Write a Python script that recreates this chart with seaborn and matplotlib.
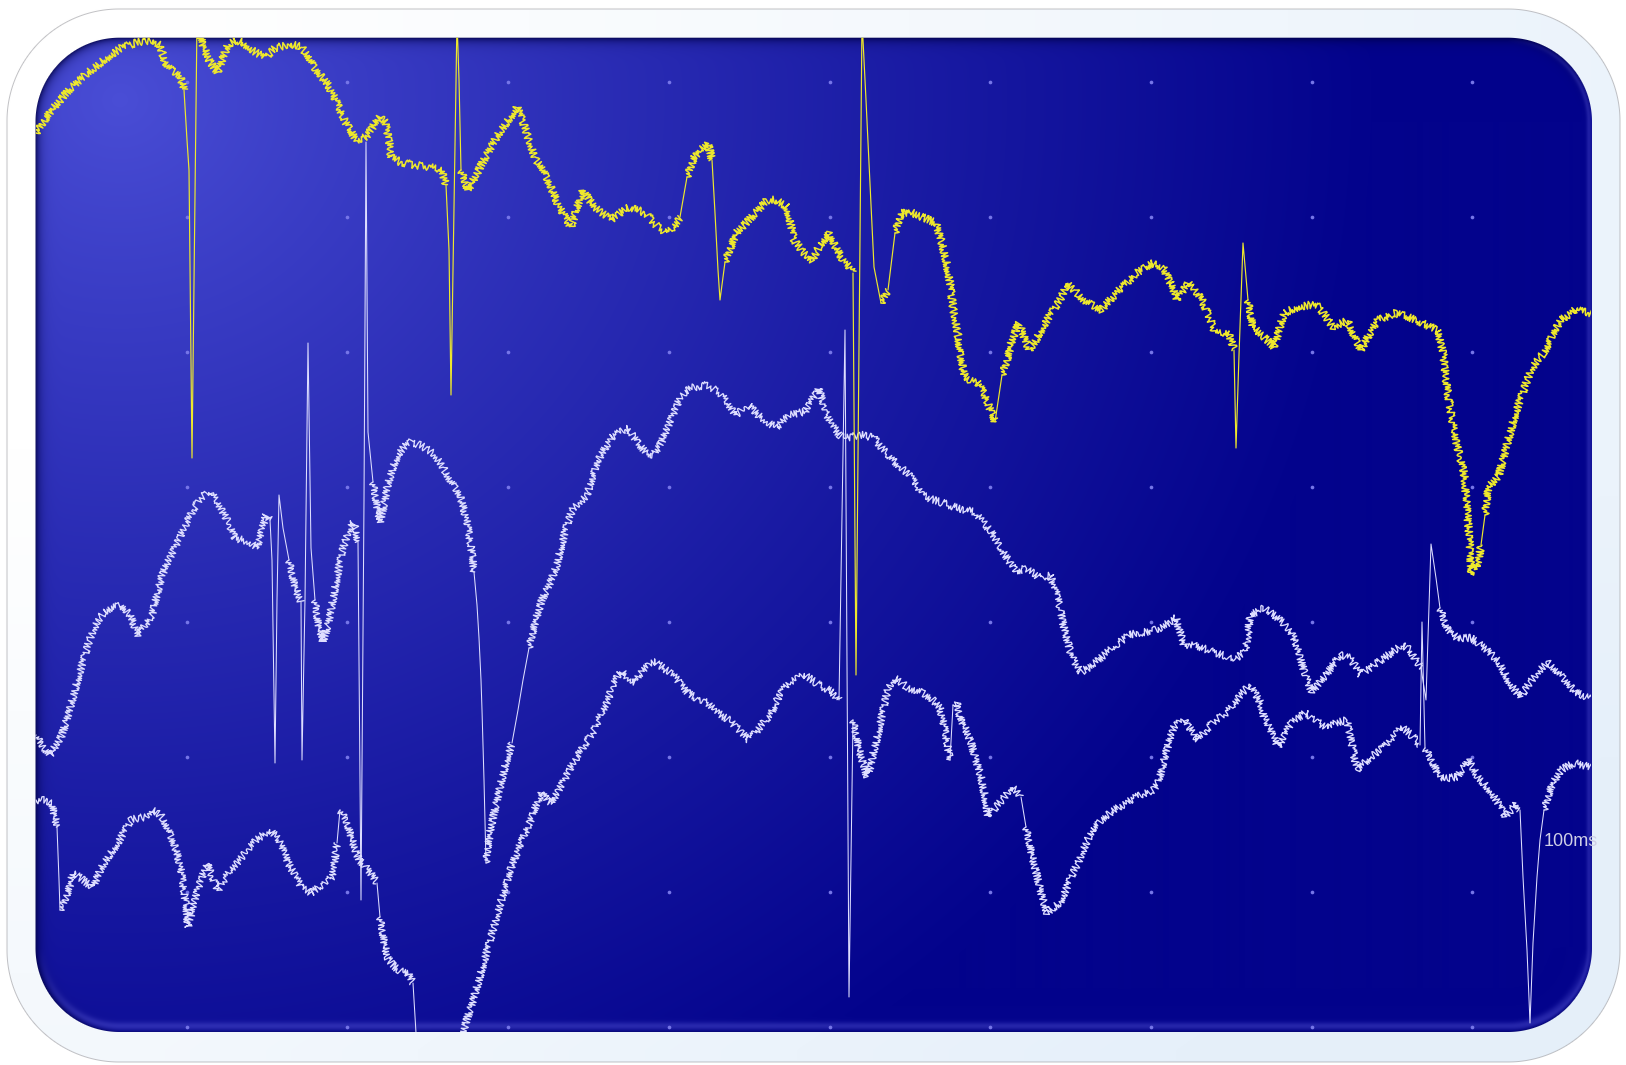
import numpy as np
import pandas as pd
import matplotlib
matplotlib.use("Agg")
import matplotlib.pyplot as plt
import seaborn as sns
from matplotlib.patches import FancyBboxPatch
from matplotlib.transforms import Bbox

# ---------------------------------------------------------------------------
# Scope traces: horizontal position (screen px) and level (screen px, down = +)
# ---------------------------------------------------------------------------
yellow_t = [36, 50, 69, 85, 104, 121, 138, 152, 160, 165, 172, 180, 184, 187, 189, 192, 197,
            203, 209, 214, 218, 222, 228, 235, 242, 255, 265, 275, 290, 300, 308, 315, 328,
            338, 346, 356, 366, 374, 380, 385, 389, 391, 400, 415, 430, 442, 446, 449, 451,
            457, 459, 461, 468, 476, 484, 492, 501, 510, 517, 523, 529, 536, 542, 550, 559,
            571, 577, 583, 594, 611, 628, 646, 656, 666, 673, 680, 687, 694, 701, 708, 712,
            715, 718, 720, 725, 736, 749, 767, 777, 787, 794, 803, 812, 820, 829, 836, 843,
            850, 853, 856, 862, 866, 869, 874, 881, 888, 895, 901, 910, 922, 936, 941, 946,
            950, 953, 957, 960, 964, 970, 977, 985, 995, 1002, 1007, 1012, 1019, 1029, 1036,
            1043, 1052, 1060, 1067, 1076, 1084, 1093, 1101, 1110, 1119, 1128, 1136, 1145,
            1153, 1163, 1170, 1177, 1188, 1195, 1202, 1210, 1215, 1229, 1234, 1236, 1239,
            1243, 1248, 1253, 1264, 1274, 1284, 1298, 1310, 1319, 1333, 1347, 1354, 1361,
            1370, 1378, 1395, 1405, 1416, 1437, 1443, 1445, 1447, 1450, 1452, 1455, 1457,
            1460, 1464, 1466, 1468, 1470, 1471, 1474, 1478, 1481, 1485, 1488, 1499, 1506,
            1516, 1523, 1530, 1537, 1544, 1552, 1561, 1575, 1591]
yellow_v = [133, 112, 90, 75, 60, 48, 42, 40, 45, 62, 70, 75, 90, 140, 170, 458, 20,
            45, 60, 68, 72, 60, 45, 40, 42, 52, 58, 48, 44, 46, 55, 68, 85,
            105, 123, 140, 137, 125, 117, 122, 140, 157, 162, 165, 167, 170, 185, 250, 395,
            20, 80, 170, 190, 175, 160, 145, 130, 118, 107, 122, 140, 160, 166, 185, 207,
            227, 208, 190, 207, 220, 207, 213, 225, 233, 228, 217, 177, 157, 150, 143, 160,
            213, 270, 300, 262, 233, 220, 200, 200, 207, 240, 252, 260, 245, 233, 248, 260,
            268, 273, 675, 20, 100, 163, 267, 303, 290, 233, 213, 212, 217, 223, 240, 260,
            283, 307, 328, 350, 375, 380, 382, 395, 422, 375, 360, 340, 323, 350, 340,
            327, 312, 300, 283, 292, 300, 305, 310, 300, 290, 282, 273, 268,
            263, 267, 282, 300, 283, 290, 300, 318, 333, 333, 350, 448, 355,
            243, 300, 327, 337, 347, 313, 307, 305, 307, 327, 320, 335, 350,
            333, 320, 313, 316, 320, 330, 353, 370, 388, 405, 420, 433, 445,
            458, 472, 497, 522, 548, 575, 565, 568, 545, 515, 488, 475, 448,
            412, 392, 372, 360, 353, 335, 320, 310, 313]

trace_a_t = [36, 44, 50, 56, 62, 69, 75, 80, 85, 90, 97, 104, 112, 121, 130, 138, 145, 152,
             157, 162, 168, 173, 180, 187, 193, 200, 206, 211, 216, 221, 228, 235, 242, 249,
             254, 258, 262, 266, 270, 272, 275, 277, 279, 283, 289, 294, 298, 301, 302, 305,
             308, 311, 315, 318, 323, 328, 332, 337, 342, 347, 353, 356, 358, 361, 364, 366,
             368, 373, 377, 380, 384, 387, 392, 398, 404, 411, 420, 432, 440, 449, 455, 460,
             467, 471, 474, 477, 479, 481, 482, 484, 486, 488, 491, 496, 501, 506, 512, 518,
             523, 529, 535, 542, 549, 556, 561, 566, 573, 580, 587, 592, 597, 604, 611, 620,
             628, 634, 639, 646, 653, 660, 666, 673, 680, 685, 691, 700, 708, 715, 722, 729,
             736, 742, 749, 758, 767, 777, 784, 791, 798, 805, 812, 819, 822, 825, 832, 839,
             846, 855, 863, 874, 881, 888, 898, 905, 912, 917, 922, 931, 940, 949, 957, 966,
             974, 983, 991, 998, 1005, 1011, 1016, 1021, 1026, 1033, 1040, 1045, 1050, 1054,
             1057, 1061, 1064, 1068, 1071, 1076, 1081, 1088, 1096, 1104, 1112, 1120, 1129,
             1138, 1146, 1153, 1160, 1168, 1176, 1180, 1184, 1195, 1208, 1222, 1236, 1245,
             1248, 1250, 1257, 1264, 1271, 1278, 1285, 1291, 1298, 1305, 1312, 1319, 1326,
             1333, 1340, 1350, 1356, 1361, 1368, 1374, 1381, 1388, 1395, 1402, 1410, 1416,
             1421, 1426, 1431, 1436, 1440, 1447, 1457, 1464, 1471, 1478, 1485, 1492, 1499,
             1504, 1509, 1515, 1520, 1525, 1530, 1538, 1547, 1554, 1561, 1568, 1575, 1582, 1591]
trace_a_v = [735, 748, 755, 745, 735, 712, 690, 672, 655, 638, 622, 612, 607, 605, 615, 635, 625, 615,
             595, 575, 562, 552, 537, 522, 510, 498, 494, 492, 500, 508, 522, 538, 540, 542,
             545, 548, 530, 515, 520, 560, 763, 600, 495, 528, 560, 582, 595, 602, 760, 600,
             343, 548, 600, 622, 642, 625, 605, 578, 552, 535, 522, 530, 542, 900, 500, 142,
             432, 482, 505, 522, 505, 488, 470, 455, 447, 442, 445, 452, 462, 478, 487, 495,
             522, 545, 572, 605, 638, 680, 710, 780, 863, 845, 827, 805, 783, 763, 743, 710,
             680, 648, 622, 600, 585, 568, 548, 528, 508, 502, 495, 478, 462, 450, 438, 432,
             428, 437, 445, 452, 455, 445, 432, 415, 398, 392, 388, 386, 385, 390, 395, 405,
             415, 410, 405, 415, 422, 428, 420, 415, 413, 412, 400, 388, 400, 412, 424, 435,
             438, 436, 435, 438, 447, 455, 465, 471, 478, 487, 495, 499, 502, 505, 508, 510,
             512, 522, 532, 543, 555, 564, 572, 570, 568, 573, 578, 576, 575, 585,
             595, 612, 628, 642, 655, 664, 672, 668, 662, 655, 648, 642, 635,
             633, 632, 630, 628, 623, 618, 632, 645, 645, 650, 655, 658, 652,
             635, 615, 612, 608, 613, 618, 625, 632, 648, 675, 692, 683, 675,
             665, 655, 658, 667, 675, 670, 665, 660, 655, 650, 645, 650, 660,
             668, 700, 544, 578, 608, 628, 638, 638, 638, 643, 648, 655, 662,
             672, 682, 690, 698, 690, 682, 672, 662, 668, 675, 683, 692, 695, 698]

trace_b_t = [36, 44, 52, 57, 59, 60, 63, 66, 70, 73, 78, 83, 88, 93, 98, 104, 111, 118, 124,
             131, 138, 145, 152, 157, 162, 169, 176, 180, 183, 186, 188, 191, 194, 200, 204,
             207, 212, 218, 223, 228, 235, 242, 249, 256, 263, 270, 275, 280, 285, 290, 296,
             301, 306, 311, 318, 325, 332, 335, 337, 340, 343, 346, 350, 353, 356, 359, 366,
             372, 377, 380, 384, 387, 392, 398, 403, 408, 413, 416, 425, 463, 470, 477, 484,
             491, 498, 505, 511, 518, 525, 532, 537, 542, 547, 552, 559, 566, 571, 577, 585,
             594, 602, 608, 613, 618, 622, 628, 635, 642, 649, 656, 663, 673, 680, 687, 698,
             708, 715, 722, 729, 736, 742, 749, 756, 763, 770, 777, 784, 791, 798, 805, 812,
             819, 825, 832, 839, 845, 849, 853, 857, 860, 864, 867, 871, 874, 878, 881, 888,
             895, 902, 908, 915, 922, 933, 940, 946, 950, 953, 957, 960, 966, 971, 976, 981,
             985, 988, 995, 1002, 1007, 1012, 1016, 1021, 1026, 1030, 1033, 1038, 1043, 1047,
             1053, 1060, 1066, 1071, 1078, 1084, 1092, 1101, 1110, 1119, 1128, 1136, 1145,
             1153, 1158, 1160, 1164, 1169, 1174, 1180, 1184, 1191, 1198, 1206, 1215, 1224,
             1233, 1240, 1250, 1255, 1260, 1264, 1271, 1278, 1285, 1291, 1298, 1305, 1312,
             1319, 1326, 1336, 1347, 1352, 1357, 1364, 1371, 1380, 1388, 1395, 1402, 1409,
             1416, 1420, 1422, 1425, 1430, 1435, 1440, 1448, 1457, 1463, 1468, 1473, 1478,
             1485, 1492, 1499, 1506, 1511, 1516, 1520, 1523, 1527, 1530, 1533, 1537, 1540,
             1544, 1551, 1556, 1561, 1568, 1575, 1582, 1591]
trace_b_v = [800, 800, 803, 827, 880, 910, 905, 897, 885, 873, 876, 880, 884, 887, 875, 863, 853, 843, 832,
             820, 818, 817, 810, 812, 817, 830, 850, 865, 883, 905, 927, 915, 903, 883, 872,
             863, 876, 890, 882, 873, 865, 857, 848, 840, 835, 830, 835, 843, 855, 867, 877,
             887, 890, 893, 888, 883, 877, 860, 843, 810, 815, 820, 832, 843, 852, 860, 867,
             875, 883, 917, 940, 957, 964, 970, 972, 973, 983, 1033, 1150, 1032, 1010, 987, 962,
             937, 912, 887, 868, 850, 833, 817, 803, 792, 800, 803, 790, 777, 767, 757, 744,
             730, 712, 700, 685, 675, 672, 678, 682, 672, 665, 662, 668, 675, 683, 692, 700,
             703, 710, 716, 720, 727, 733, 740, 732, 723, 716, 700, 688, 682, 678, 675, 680,
             685, 688, 692, 700, 330, 997, 720, 738, 753, 766, 777, 765, 750, 735, 720, 688,
             678, 683, 688, 690, 692, 700, 708, 735, 760, 705, 702, 717, 730, 743, 760, 777,
             797, 817, 808, 800, 793, 787, 790, 797, 827, 845, 860, 880, 900, 913,
             908, 903, 890, 877, 863, 848, 830, 820, 813, 807, 802, 797, 793,
             790, 783, 777, 760, 742, 727, 722, 720, 730, 740, 730, 720, 715,
             705, 695, 685, 693, 702, 717, 732, 747, 735, 723, 718, 713, 718,
             723, 727, 723, 720, 745, 770, 763, 757, 750, 743, 735, 727, 733,
             740, 745, 622, 748, 757, 767, 777, 778, 777, 768, 760, 768, 777,
             785, 793, 805, 817, 810, 803, 810, 877, 950, 1023, 943, 877, 840,
             810, 787, 778, 770, 766, 763, 765, 767]

scale_label = "100ms"

# ---------------------------------------------------------------------------
# Screen layout (pixels)
# ---------------------------------------------------------------------------
W, H = 1626, 1065
FRAME = (7.0, 9.0, 1619.0, 1062.0, 112.0)       # outer bezel x0, y0, x1, y1, radius
PX0, PY0, PX1, PY1, PR = 35.5, 37.7, 1591.0, 1032.0, 84.0   # display glass
GX0, GDX, NGX = 186.7, 160.7, 9                  # graticule columns
GY0, GDY, NGY = 82.3, 135.0, 8                   # graticule rows


def rounded_rect_sdf(xx, yy, x0, y0, x1, y1, r):
    cx, cy = (x0 + x1) / 2, (y0 + y1) / 2
    qx = np.abs(xx - cx) - ((x1 - x0) / 2 - r)
    qy = np.abs(yy - cy) - ((y1 - y0) / 2 - r)
    return (np.hypot(np.maximum(qx, 0), np.maximum(qy, 0))
            + np.minimum(np.maximum(qx, qy), 0) - r)


def build_background():
    yy, xx = np.mgrid[0:H, 0:W].astype(float)
    xx += 0.5
    yy += 0.5
    img = np.ones((H, W, 3))

    # bezel with a faint cool tint toward the right and bottom
    d_out = rounded_rect_sdf(xx, yy, *FRAME)
    cov = np.clip(0.5 - d_out, 0, 1)[..., None]
    t = np.clip(0.75 * np.clip((xx - 150) / 1450, 0, 1)
                + 0.45 * np.clip((yy - 450) / 600, 0, 1), 0, 1)[..., None]
    bezel = np.array([1.0, 1.0, 1.0]) * (1 - t) + np.array([0.90, 0.94, 0.98]) * t
    img = img * (1 - cov) + bezel * cov
    rim = (np.clip(1 - np.abs(d_out) / 1.0, 0, 1) * 0.6)[..., None]
    img = img * (1 - rim) + np.array([0.6, 0.6, 0.62]) * rim

    # display glass: radial blue gradient, bright in the upper-left
    d_in = rounded_rect_sdf(xx, yy, PX0, PY0, PX1, PY1, PR)
    cov = np.clip(0.5 - d_in, 0, 1)[..., None]
    tt = np.sqrt(((xx - 120) / 1250) ** 2 + ((yy - 100) / 1150) ** 2)
    tt = (np.clip(tt, 0, 1) ** 0.85)[..., None]
    c0 = np.array([74, 78, 214]) / 255
    c1 = np.array([3, 3, 140]) / 255
    glass = c0 * (1 - tt) + c1 * tt

    # bevel: dark inner shadow top/left, light reflection bottom/right
    depth = np.maximum(-d_in, 0)
    nx = xx - np.clip(xx, PX0 + PR, PX1 - PR)
    ny = yy - np.clip(yy, PY0 + PR, PY1 - PR)
    nn = np.hypot(nx, ny)
    nn[nn == 0] = 1
    ux, uy = nx / nn, ny / nn
    dark = np.exp(-depth / 4.5) * np.clip(np.maximum(-ux, 0) + np.maximum(-uy, 0), 0, 1) * 0.85
    light = (0.35 * np.exp(-((depth - 6) / 4) ** 2) * np.maximum(uy, 0)
             + 0.30 * np.exp(-((depth - 3) / 2.5) ** 2) * np.maximum(ux, 0))
    dark_b = 0.5 * np.exp(-depth / 1.2) * np.maximum(uy, 0)
    navy = np.array([0, 0, 70]) / 255
    glow = np.array([100, 100, 225]) / 255
    glass = glass * (1 - dark[..., None]) + navy * dark[..., None]
    glass = glass * (1 - light[..., None]) + glow * light[..., None]
    glass = glass * (1 - dark_b[..., None]) + navy * dark_b[..., None]
    img = img * (1 - cov) + glass * cov
    return np.clip(img, 0, 1)


def trace_frame(t, v):
    """Split a trace into runs of gentle and steep segments."""
    t = np.asarray(t, float)
    v = np.asarray(v, float)
    dt, dv = np.diff(t), np.diff(v)
    steep = (np.abs(dv) >= 5 * np.abs(dt)) & (np.abs(dv) >= 30)
    rows, run, start = [], 0, 0
    for i in range(1, len(steep) + 1):
        if i == len(steep) or steep[i] != steep[start]:
            for j in range(start, i + 1):
                rows.append((t[j], v[j], run, bool(steep[start])))
            run += 1
            start = i
    return pd.DataFrame(rows, columns=["t", "v", "run", "steep"])


def draw_trace(ax, t, v, color, lw, lw_fast, noise, clip):
    df = trace_frame(t, v)
    n0 = len(ax.lines)
    # slow parts carry the visible noise of the signal
    with plt.rc_context({"path.sketch": noise}):
        sns.lineplot(data=df[~df.steep], x="t", y="v", units="run", estimator=None,
                     sort=False, color=color, linewidth=lw, ax=ax, legend=False)
    # fast edges are drawn as clean strokes
    sns.lineplot(data=df[df.steep], x="t", y="v", units="run", estimator=None,
                 sort=False, color=color, linewidth=lw_fast, ax=ax, legend=False)
    for ln in ax.lines[n0:]:
        ln.set_clip_path(clip)


sns.set_style("white")
plt.rcParams["font.family"] = ["Liberation Sans", "DejaVu Sans"]

fig = plt.figure(figsize=(W / 100, H / 100), dpi=100)
ax = fig.add_axes([0, 0, 1, 1])
ax.imshow(build_background(), extent=(0, W, H, 0), interpolation="bilinear",
          aspect="auto", zorder=0)

glass_patch = FancyBboxPatch((PX0, PY0), PX1 - PX0, PY1 - PY0,
                             boxstyle=f"round,pad=0,rounding_size={PR}",
                             transform=ax.transData, facecolor="none",
                             edgecolor="none", zorder=0)
ax.add_patch(glass_patch)

# graticule dots
gx = GX0 + GDX * np.arange(NGX)
gy = GY0 + GDY * np.arange(NGY)
GXX, GYY = np.meshgrid(gx, gy)
dots = ax.scatter(GXX.ravel(), GYY.ravel(), s=7, color="#7676e8", linewidths=0, zorder=1)
dots.set_clip_path(glass_patch)

# timebase label
lbl = ax.text(1544, 841, scale_label, color="#cfcfe6", fontsize=13, ha="left", va="center",
              zorder=1.5)
lbl.set_clip_box(Bbox.from_extents(PX0, H - PY1, PX1, H - PY0))

draw_trace(ax, trace_b_t, trace_b_v, "#dedeff", 0.95, 0.75, (3.7, 3.0, 3.0), glass_patch)
draw_trace(ax, trace_a_t, trace_a_v, "#dedeff", 0.95, 0.75, (3.7, 3.0, 3.0), glass_patch)
draw_trace(ax, yellow_t, yellow_v, "#eee82c", 1.1, 0.85, (3.8, 3.0, 3.0), glass_patch)

ax.set_xlim(0, W)
ax.set_ylim(H, 0)
ax.axis("off")
fig.savefig("out.png", dpi=100)
